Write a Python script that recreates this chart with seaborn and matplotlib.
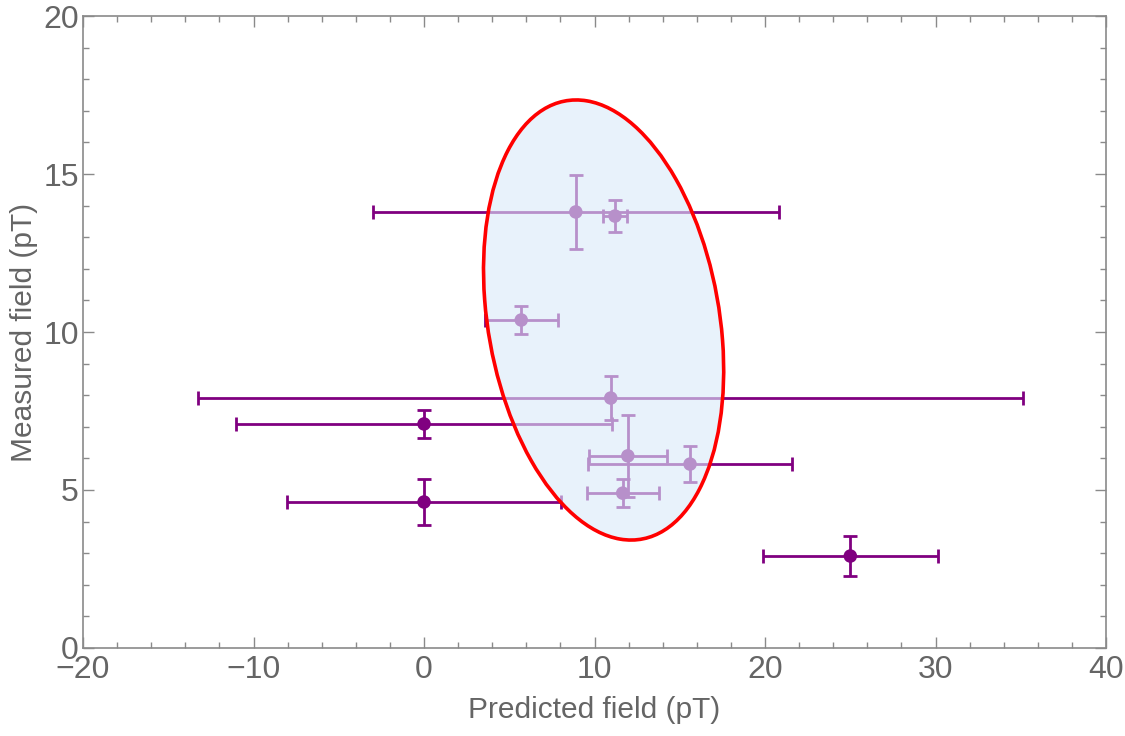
import numpy as np
import matplotlib
matplotlib.use("Agg")
import matplotlib.pyplot as plt
from matplotlib.patches import Ellipse
from matplotlib.ticker import MultipleLocator
import seaborn as sns
import pandas as pd

# predicted / measured field values (pT) with their errors
predicted = [8.9, 11.2, 5.7, 10.95, 0.0, 11.95, 15.6, 11.65, 0.0, 25.0]
predicted_err = [11.9, 0.7, 2.15, 24.2, 11.0, 2.3, 6.0, 2.1, 8.05, 5.15]
measured = [13.8, 13.67, 10.38, 7.91, 7.09, 6.08, 5.82, 4.9, 4.62, 2.91]
measured_err = [1.17, 0.5, 0.45, 0.7, 0.45, 1.3, 0.57, 0.45, 0.73, 0.63]

# confidence ellipse (center + covariance in data units)
ell_center = [10.53, 10.38]
ell_cov = [[49.6, -11.2], [-11.2, 48.5]]

df = pd.DataFrame({"predicted": predicted, "measured": measured})

sns.set_theme(style="white")
plt.rcParams['font.family'] = ['Liberation Sans', 'DejaVu Sans']

grey_txt = "#656565"
grey_ax = "#8a8a8a"
purple = "#800080"

fig = plt.figure(figsize=(11.25, 7.36), dpi=100)
ax = fig.add_axes([0.0738, 0.1196, 0.9094, 0.8586])

ax.errorbar(predicted, measured, xerr=predicted_err, yerr=measured_err,
            fmt='none', ecolor=purple, elinewidth=2.0, capsize=5, capthick=2.0, zorder=2)
sns.scatterplot(data=df, x="predicted", y="measured", color=purple, s=95,
                edgecolor='none', ax=ax, zorder=3)

# ellipse from covariance
vals, vecs = np.linalg.eigh(np.array(ell_cov))
order = vals.argsort()[::-1]
vals, vecs = vals[order], vecs[:, order]
angle = np.degrees(np.arctan2(vecs[1, 0], vecs[0, 0]))
w, h = 2 * np.sqrt(vals)
ax.add_patch(Ellipse(ell_center, w, h, angle=angle, facecolor=(218/255, 234/255, 249/255),
                     alpha=0.62, edgecolor='none', zorder=4))
ax.add_patch(Ellipse(ell_center, w, h, angle=angle, facecolor='none',
                     edgecolor='#ff0000', lw=2.6, zorder=5))

ax.set_xlim(-20, 40)
ax.set_ylim(0, 20)
ax.xaxis.set_major_locator(MultipleLocator(10))
ax.xaxis.set_minor_locator(MultipleLocator(2))
ax.yaxis.set_major_locator(MultipleLocator(5))
ax.yaxis.set_minor_locator(MultipleLocator(1))
ax.tick_params(which='both', direction='in', top=True, right=True, bottom=True, left=True,
               color=grey_ax, labelcolor=grey_txt, labelsize=23, width=1)
ax.tick_params(which='major', length=8)
ax.tick_params(axis='x', which='major', pad=5)
ax.tick_params(axis='y', which='major', pad=3)
ax.tick_params(which='minor', length=4)
for s in ax.spines.values():
    s.set_color(grey_ax)
    s.set_linewidth(1.2)

ax.set_xlabel("Predicted field (pT)", fontsize=21.5, color=grey_txt, labelpad=8)
ax.set_ylabel("Measured field (pT)", fontsize=21.5, color=grey_txt, labelpad=4)

fig.savefig("out.png", dpi=100)
